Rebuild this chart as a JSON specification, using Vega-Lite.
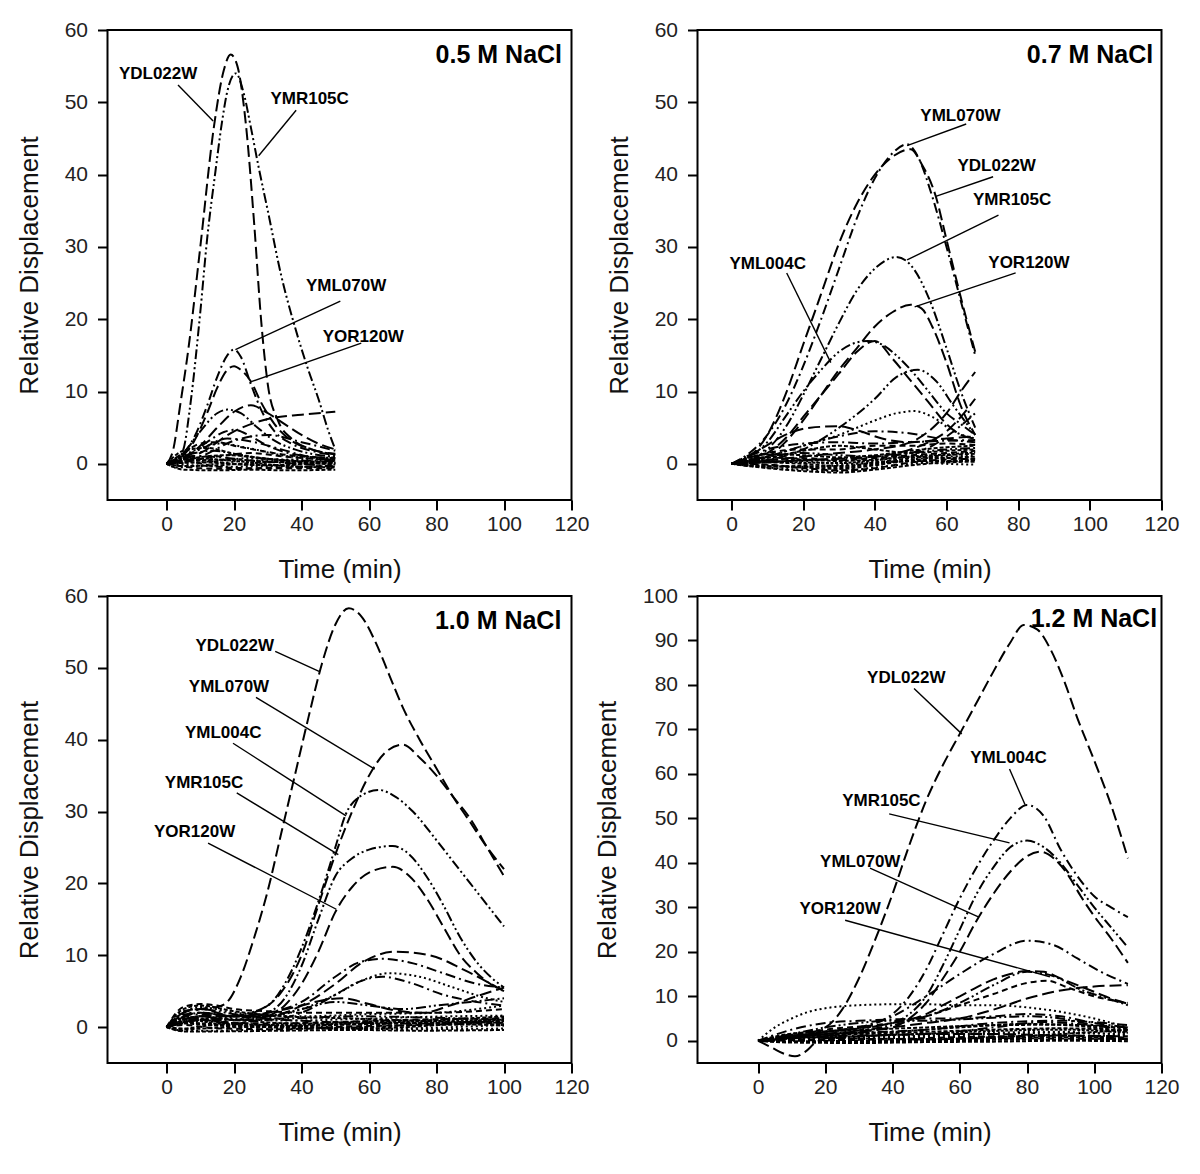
{
"$schema":"https://vega.github.io/schema/vega-lite/v6.json",
"background":"white",
"padding":{"left":14.5,"top":18,"right":5,"bottom":5},
"columns":2,
"spacing":{"row":96,"column":126},
"bounds":"flush",
"resolve":{"scale":{"strokeDash":"independent","x":"independent","y":"independent"}},
"config":{
 "font":"Liberation Sans",
 "view":{"stroke":"black","strokeWidth":2},
 "axis":{"domain":false,"grid":false,"ticks":true,"tickColor":"black","tickSize":10,"tickWidth":2,"labelFlush":false,"labelFont":"Liberation Sans","labelFontSize":21,"labelColor":"#222","titleFont":"Liberation Sans","titleFontSize":26,"titleFontWeight":"normal","titleColor":"#111"},
 "axisX":{"labelPadding":3,"titlePadding":22},
 "axisY":{"labelPadding":10,"titlePadding":22}
},
"datasets":{
"p1":[
{"gene":"YDL022W","t":0,"v":0},{"gene":"YDL022W","t":2,"v":2},{"gene":"YDL022W","t":4,"v":8},{"gene":"YDL022W","t":6.5,"v":16},{"gene":"YDL022W","t":10,"v":30},{"gene":"YDL022W","t":14,"v":46.5},{"gene":"YDL022W","t":17,"v":54.5},{"gene":"YDL022W","t":19,"v":56.6},{"gene":"YDL022W","t":21,"v":55},{"gene":"YDL022W","t":23.5,"v":47},{"gene":"YDL022W","t":26,"v":33},{"gene":"YDL022W","t":28,"v":20},{"gene":"YDL022W","t":30,"v":11},{"gene":"YDL022W","t":33,"v":6},{"gene":"YDL022W","t":37,"v":3.5},{"gene":"YDL022W","t":43,"v":2},{"gene":"YDL022W","t":50,"v":1.4},
{"gene":"YMR105C","t":0,"v":0},{"gene":"YMR105C","t":3,"v":0.5},{"gene":"YMR105C","t":5,"v":2},{"gene":"YMR105C","t":7,"v":8},{"gene":"YMR105C","t":10,"v":21},{"gene":"YMR105C","t":12,"v":31},{"gene":"YMR105C","t":14.5,"v":40.5},{"gene":"YMR105C","t":16.5,"v":47.5},{"gene":"YMR105C","t":18,"v":51.5},{"gene":"YMR105C","t":20.5,"v":54},{"gene":"YMR105C","t":23,"v":51},{"gene":"YMR105C","t":25,"v":46.5},{"gene":"YMR105C","t":27.3,"v":41},{"gene":"YMR105C","t":30,"v":35},{"gene":"YMR105C","t":34,"v":26},{"gene":"YMR105C","t":38,"v":19},{"gene":"YMR105C","t":42,"v":13},{"gene":"YMR105C","t":45,"v":9},{"gene":"YMR105C","t":48,"v":4.5},{"gene":"YMR105C","t":50,"v":2},
{"gene":"YML070W","t":0,"v":0},{"gene":"YML070W","t":4,"v":1},{"gene":"YML070W","t":8,"v":3.5},{"gene":"YML070W","t":12,"v":8},{"gene":"YML070W","t":15,"v":12},{"gene":"YML070W","t":18,"v":15},{"gene":"YML070W","t":20,"v":15.8},{"gene":"YML070W","t":22,"v":14.8},{"gene":"YML070W","t":25,"v":11},{"gene":"YML070W","t":28,"v":7.5},{"gene":"YML070W","t":32,"v":4.5},{"gene":"YML070W","t":37,"v":2.8},{"gene":"YML070W","t":43,"v":1.8},{"gene":"YML070W","t":50,"v":1.2},
{"gene":"YOR120W","t":0,"v":0},{"gene":"YOR120W","t":4,"v":0.8},{"gene":"YOR120W","t":8,"v":3},{"gene":"YOR120W","t":12,"v":7},{"gene":"YOR120W","t":15,"v":10.5},{"gene":"YOR120W","t":18,"v":13},{"gene":"YOR120W","t":20,"v":13.5},{"gene":"YOR120W","t":22,"v":13},{"gene":"YOR120W","t":25,"v":11.4},{"gene":"YOR120W","t":28,"v":8.5},{"gene":"YOR120W","t":32,"v":5.5},{"gene":"YOR120W","t":37,"v":3.2},{"gene":"YOR120W","t":43,"v":2},{"gene":"YOR120W","t":50,"v":1.3},
{"gene":"bg01","t":0,"v":0},{"gene":"bg01","t":5,"v":0.8},{"gene":"bg01","t":10,"v":2.5},{"gene":"bg01","t":15,"v":5},{"gene":"bg01","t":20,"v":7.2},{"gene":"bg01","t":25,"v":8.1},{"gene":"bg01","t":30,"v":7},{"gene":"bg01","t":35,"v":5.5},{"gene":"bg01","t":40,"v":4},{"gene":"bg01","t":45,"v":2.8},{"gene":"bg01","t":50,"v":2},
{"gene":"bg02","t":0,"v":0},{"gene":"bg02","t":10,"v":1.5},{"gene":"bg02","t":20,"v":4.5},{"gene":"bg02","t":30,"v":6.2},{"gene":"bg02","t":40,"v":6.8},{"gene":"bg02","t":50,"v":7.2},
{"gene":"bg03","t":0,"v":0},{"gene":"bg03","t":5,"v":1.5},{"gene":"bg03","t":10,"v":4.5},{"gene":"bg03","t":15,"v":7},{"gene":"bg03","t":18,"v":7.5},{"gene":"bg03","t":22,"v":7},{"gene":"bg03","t":27,"v":5},{"gene":"bg03","t":32,"v":3.2},{"gene":"bg03","t":38,"v":2},{"gene":"bg03","t":44,"v":1.3},{"gene":"bg03","t":50,"v":1},
{"gene":"bg04","t":0,"v":0},{"gene":"bg04","t":6,"v":1},{"gene":"bg04","t":12,"v":3},{"gene":"bg04","t":17,"v":4.4},{"gene":"bg04","t":20,"v":4.7},{"gene":"bg04","t":25,"v":3.8},{"gene":"bg04","t":30,"v":2.5},{"gene":"bg04","t":36,"v":1.5},{"gene":"bg04","t":43,"v":1},{"gene":"bg04","t":50,"v":0.8},
{"gene":"bg05","t":0,"v":0},{"gene":"bg05","t":5,"v":1.5},{"gene":"bg05","t":10,"v":2.8},{"gene":"bg05","t":15,"v":3},{"gene":"bg05","t":20,"v":2.5},{"gene":"bg05","t":28,"v":1.8},{"gene":"bg05","t":36,"v":1.2},{"gene":"bg05","t":50,"v":0.8},
{"gene":"bg06","t":0,"v":0},{"gene":"bg06","t":8,"v":1.8},{"gene":"bg06","t":16,"v":2.8},{"gene":"bg06","t":24,"v":2.2},{"gene":"bg06","t":34,"v":1.2},{"gene":"bg06","t":50,"v":0.6},
{"gene":"bg07","t":0,"v":0},{"gene":"bg07","t":10,"v":1},{"gene":"bg07","t":20,"v":3.2},{"gene":"bg07","t":30,"v":4},{"gene":"bg07","t":40,"v":3},{"gene":"bg07","t":50,"v":1.8},
{"gene":"bg08","t":0,"v":0},{"gene":"bg08","t":5,"v":0.3},{"gene":"bg08","t":15,"v":1},{"gene":"bg08","t":25,"v":1.5},{"gene":"bg08","t":35,"v":1},{"gene":"bg08","t":50,"v":0.5},
{"gene":"bg09","t":0,"v":0},{"gene":"bg09","t":3,"v":-0.5},{"gene":"bg09","t":10,"v":-0.3},{"gene":"bg09","t":20,"v":-0.4},{"gene":"bg09","t":30,"v":-0.3},{"gene":"bg09","t":40,"v":-0.4},{"gene":"bg09","t":50,"v":-0.3},
{"gene":"bg10","t":0,"v":0},{"gene":"bg10","t":10,"v":0.5},{"gene":"bg10","t":20,"v":0.6},{"gene":"bg10","t":30,"v":0.3},{"gene":"bg10","t":40,"v":0.2},{"gene":"bg10","t":50,"v":0.2},
{"gene":"bg11","t":0,"v":0},{"gene":"bg11","t":10,"v":-0.6},{"gene":"bg11","t":20,"v":-0.7},{"gene":"bg11","t":30,"v":-0.6},{"gene":"bg11","t":40,"v":-0.6},{"gene":"bg11","t":50,"v":-0.6},
{"gene":"bg12","t":0,"v":0},{"gene":"bg12","t":10,"v":0.2},{"gene":"bg12","t":20,"v":0},{"gene":"bg12","t":30,"v":-0.2},{"gene":"bg12","t":40,"v":0},{"gene":"bg12","t":50,"v":0.1},
{"gene":"bg13","t":0,"v":0},{"gene":"bg13","t":6,"v":1.2},{"gene":"bg13","t":14,"v":1.8},{"gene":"bg13","t":24,"v":1},{"gene":"bg13","t":34,"v":0.5},{"gene":"bg13","t":50,"v":0.4},
{"gene":"bg14","t":0,"v":0},{"gene":"bg14","t":10,"v":-0.2},{"gene":"bg14","t":20,"v":0.3},{"gene":"bg14","t":30,"v":0.5},{"gene":"bg14","t":40,"v":0.4},{"gene":"bg14","t":50,"v":0.3},
{"gene":"bg15","t":0,"v":0},{"gene":"bg15","t":8,"v":0.8},{"gene":"bg15","t":18,"v":1.2},{"gene":"bg15","t":28,"v":0.8},{"gene":"bg15","t":38,"v":0.3},{"gene":"bg15","t":50,"v":-0.1},
{"gene":"bg16","t":0,"v":0},{"gene":"bg16","t":10,"v":2},{"gene":"bg16","t":18,"v":3.5},{"gene":"bg16","t":26,"v":3},{"gene":"bg16","t":34,"v":2},{"gene":"bg16","t":42,"v":1},{"gene":"bg16","t":50,"v":0.5},
{"gene":"bg17","t":0,"v":0},{"gene":"bg17","t":5,"v":-0.8},{"gene":"bg17","t":15,"v":-0.9},{"gene":"bg17","t":25,"v":-0.8},{"gene":"bg17","t":35,"v":-0.9},{"gene":"bg17","t":50,"v":-0.8},
{"gene":"bg18","t":0,"v":0},{"gene":"bg18","t":5,"v":0.9},{"gene":"bg18","t":15,"v":0.6},{"gene":"bg18","t":25,"v":0.2},{"gene":"bg18","t":35,"v":-0.3},{"gene":"bg18","t":50,"v":-0.5},
{"gene":"bg19","t":0,"v":0},{"gene":"bg19","t":5,"v":0.4},{"gene":"bg19","t":15,"v":-0.4},{"gene":"bg19","t":25,"v":-0.6},{"gene":"bg19","t":35,"v":-0.5},{"gene":"bg19","t":50,"v":-0.2},
{"gene":"bg20","t":0,"v":0},{"gene":"bg20","t":5,"v":1.8},{"gene":"bg20","t":12,"v":2.2},{"gene":"bg20","t":20,"v":1.4},{"gene":"bg20","t":30,"v":0.7},{"gene":"bg20","t":50,"v":0.2},
{"gene":"bg21","t":0,"v":0},{"gene":"bg21","t":5,"v":0.1},{"gene":"bg21","t":15,"v":0.4},{"gene":"bg21","t":25,"v":0.8},{"gene":"bg21","t":35,"v":0.6},{"gene":"bg21","t":50,"v":0.9},
{"gene":"bg22","t":0,"v":0},{"gene":"bg22","t":5,"v":-0.3},{"gene":"bg22","t":15,"v":-0.2},{"gene":"bg22","t":25,"v":0.1},{"gene":"bg22","t":35,"v":0.3},{"gene":"bg22","t":50,"v":0},
{"gene":"bg23","t":0,"v":0},{"gene":"bg23","t":8,"v":1.1},{"gene":"bg23","t":16,"v":0.9},{"gene":"bg23","t":26,"v":0.4},{"gene":"bg23","t":36,"v":0.1},{"gene":"bg23","t":50,"v":-0.4},
{"gene":"bg24","t":0,"v":0},{"gene":"bg24","t":6,"v":0.6},{"gene":"bg24","t":14,"v":0.3},{"gene":"bg24","t":22,"v":-0.1},{"gene":"bg24","t":34,"v":-0.2},{"gene":"bg24","t":50,"v":0.6}
],
"p2":[
{"gene":"YML070W","t":0,"v":0},{"gene":"YML070W","t":5,"v":1.5},{"gene":"YML070W","t":10,"v":4},{"gene":"YML070W","t":15,"v":8},{"gene":"YML070W","t":20,"v":13.5},{"gene":"YML070W","t":25,"v":20},{"gene":"YML070W","t":30,"v":27},{"gene":"YML070W","t":35,"v":34},{"gene":"YML070W","t":40,"v":39.5},{"gene":"YML070W","t":45,"v":43},{"gene":"YML070W","t":49,"v":44.2},{"gene":"YML070W","t":52,"v":42.5},{"gene":"YML070W","t":56,"v":37},{"gene":"YML070W","t":60,"v":30},{"gene":"YML070W","t":64,"v":22.5},{"gene":"YML070W","t":68,"v":15},
{"gene":"YDL022W","t":0,"v":0},{"gene":"YDL022W","t":5,"v":1},{"gene":"YDL022W","t":10,"v":4},{"gene":"YDL022W","t":15,"v":9.5},{"gene":"YDL022W","t":20,"v":16.5},{"gene":"YDL022W","t":25,"v":23.5},{"gene":"YDL022W","t":30,"v":30.5},{"gene":"YDL022W","t":35,"v":36},{"gene":"YDL022W","t":40,"v":40},{"gene":"YDL022W","t":45,"v":42.5},{"gene":"YDL022W","t":50,"v":43.5},{"gene":"YDL022W","t":53,"v":41.5},{"gene":"YDL022W","t":57,"v":37},{"gene":"YDL022W","t":60,"v":31},{"gene":"YDL022W","t":64,"v":23},{"gene":"YDL022W","t":68,"v":15.5},
{"gene":"YMR105C","t":0,"v":0},{"gene":"YMR105C","t":5,"v":0.5},{"gene":"YMR105C","t":10,"v":2},{"gene":"YMR105C","t":15,"v":5},{"gene":"YMR105C","t":20,"v":9.5},{"gene":"YMR105C","t":25,"v":14.5},{"gene":"YMR105C","t":30,"v":19.5},{"gene":"YMR105C","t":35,"v":24},{"gene":"YMR105C","t":40,"v":27},{"gene":"YMR105C","t":46,"v":28.6},{"gene":"YMR105C","t":50,"v":27.5},{"gene":"YMR105C","t":55,"v":23},{"gene":"YMR105C","t":60,"v":16},{"gene":"YMR105C","t":64,"v":10},{"gene":"YMR105C","t":68,"v":5},
{"gene":"YOR120W","t":0,"v":0},{"gene":"YOR120W","t":10,"v":1},{"gene":"YOR120W","t":15,"v":3},{"gene":"YOR120W","t":20,"v":6},{"gene":"YOR120W","t":25,"v":9.5},{"gene":"YOR120W","t":30,"v":13},{"gene":"YOR120W","t":35,"v":16},{"gene":"YOR120W","t":40,"v":19},{"gene":"YOR120W","t":45,"v":21},{"gene":"YOR120W","t":50,"v":22},{"gene":"YOR120W","t":53,"v":21.5},{"gene":"YOR120W","t":56,"v":19},{"gene":"YOR120W","t":60,"v":14},{"gene":"YOR120W","t":64,"v":8},{"gene":"YOR120W","t":68,"v":4},
{"gene":"YML004C","t":0,"v":0},{"gene":"YML004C","t":5,"v":1},{"gene":"YML004C","t":10,"v":3},{"gene":"YML004C","t":15,"v":6.5},{"gene":"YML004C","t":20,"v":10},{"gene":"YML004C","t":25,"v":13},{"gene":"YML004C","t":30,"v":15.5},{"gene":"YML004C","t":35,"v":16.8},{"gene":"YML004C","t":38,"v":17},{"gene":"YML004C","t":42,"v":16.5},{"gene":"YML004C","t":46,"v":15},{"gene":"YML004C","t":50,"v":13},{"gene":"YML004C","t":55,"v":10},{"gene":"YML004C","t":60,"v":7},{"gene":"YML004C","t":64,"v":5.5},{"gene":"YML004C","t":68,"v":4},
{"gene":"bg01","t":0,"v":0},{"gene":"bg01","t":10,"v":0.5},{"gene":"bg01","t":20,"v":1},{"gene":"bg01","t":30,"v":1.5},{"gene":"bg01","t":40,"v":2},{"gene":"bg01","t":50,"v":3},{"gene":"bg01","t":55,"v":4.5},{"gene":"bg01","t":60,"v":7},{"gene":"bg01","t":64,"v":10},{"gene":"bg01","t":68,"v":12.7},
{"gene":"bg02","t":0,"v":0},{"gene":"bg02","t":20,"v":0.5},{"gene":"bg02","t":40,"v":1},{"gene":"bg02","t":50,"v":2},{"gene":"bg02","t":55,"v":3},{"gene":"bg02","t":60,"v":4.5},{"gene":"bg02","t":64,"v":6.5},{"gene":"bg02","t":68,"v":9},
{"gene":"bg03","t":0,"v":0},{"gene":"bg03","t":10,"v":0.5},{"gene":"bg03","t":20,"v":2},{"gene":"bg03","t":30,"v":5},{"gene":"bg03","t":40,"v":9},{"gene":"bg03","t":46,"v":12},{"gene":"bg03","t":52,"v":13},{"gene":"bg03","t":57,"v":11.5},{"gene":"bg03","t":62,"v":8},{"gene":"bg03","t":68,"v":4},
{"gene":"bg04","t":0,"v":0},{"gene":"bg04","t":10,"v":1.5},{"gene":"bg04","t":15,"v":3.5},{"gene":"bg04","t":20,"v":6.5},{"gene":"bg04","t":25,"v":9.5},{"gene":"bg04","t":30,"v":12.5},{"gene":"bg04","t":35,"v":15.5},{"gene":"bg04","t":40,"v":17},{"gene":"bg04","t":45,"v":14.5},{"gene":"bg04","t":50,"v":11.5},{"gene":"bg04","t":55,"v":8.5},{"gene":"bg04","t":60,"v":5.5},{"gene":"bg04","t":64,"v":4},{"gene":"bg04","t":68,"v":3.5},
{"gene":"bg05","t":0,"v":0},{"gene":"bg05","t":10,"v":1},{"gene":"bg05","t":20,"v":2.5},{"gene":"bg05","t":30,"v":4},{"gene":"bg05","t":40,"v":6},{"gene":"bg05","t":46,"v":7},{"gene":"bg05","t":51,"v":7.3},{"gene":"bg05","t":56,"v":6.5},{"gene":"bg05","t":62,"v":4.5},{"gene":"bg05","t":68,"v":3.5},
{"gene":"bg06","t":0,"v":0},{"gene":"bg06","t":8,"v":2},{"gene":"bg06","t":15,"v":4},{"gene":"bg06","t":22,"v":5},{"gene":"bg06","t":30,"v":5.2},{"gene":"bg06","t":36,"v":4.5},{"gene":"bg06","t":42,"v":3.5},{"gene":"bg06","t":50,"v":3},{"gene":"bg06","t":60,"v":3.5},{"gene":"bg06","t":68,"v":3.8},
{"gene":"bg07","t":0,"v":0},{"gene":"bg07","t":10,"v":1},{"gene":"bg07","t":20,"v":2.5},{"gene":"bg07","t":30,"v":3.8},{"gene":"bg07","t":40,"v":4.5},{"gene":"bg07","t":50,"v":4.2},{"gene":"bg07","t":58,"v":3.5},{"gene":"bg07","t":68,"v":3},
{"gene":"bg08","t":0,"v":0},{"gene":"bg08","t":10,"v":1.5},{"gene":"bg08","t":20,"v":2},{"gene":"bg08","t":30,"v":2},{"gene":"bg08","t":40,"v":2.5},{"gene":"bg08","t":50,"v":2.5},{"gene":"bg08","t":60,"v":2.8},{"gene":"bg08","t":68,"v":2.6},
{"gene":"bg09","t":0,"v":0},{"gene":"bg09","t":10,"v":-0.5},{"gene":"bg09","t":20,"v":-0.8},{"gene":"bg09","t":30,"v":-1},{"gene":"bg09","t":40,"v":-0.5},{"gene":"bg09","t":50,"v":0},{"gene":"bg09","t":60,"v":0.3},{"gene":"bg09","t":68,"v":0.4},
{"gene":"bg10","t":0,"v":0},{"gene":"bg10","t":10,"v":-0.3},{"gene":"bg10","t":20,"v":-0.5},{"gene":"bg10","t":30,"v":-0.7},{"gene":"bg10","t":40,"v":-0.2},{"gene":"bg10","t":50,"v":0.5},{"gene":"bg10","t":60,"v":0.8},{"gene":"bg10","t":68,"v":1},
{"gene":"bg11","t":0,"v":0},{"gene":"bg11","t":10,"v":0.5},{"gene":"bg11","t":20,"v":0.8},{"gene":"bg11","t":30,"v":0.5},{"gene":"bg11","t":40,"v":0.8},{"gene":"bg11","t":50,"v":1.2},{"gene":"bg11","t":60,"v":1.5},{"gene":"bg11","t":68,"v":1.8},
{"gene":"bg12","t":0,"v":0},{"gene":"bg12","t":10,"v":0.2},{"gene":"bg12","t":20,"v":0},{"gene":"bg12","t":30,"v":-0.3},{"gene":"bg12","t":40,"v":0.2},{"gene":"bg12","t":50,"v":0.8},{"gene":"bg12","t":60,"v":1.2},{"gene":"bg12","t":68,"v":1.4},
{"gene":"bg13","t":0,"v":0},{"gene":"bg13","t":10,"v":1},{"gene":"bg13","t":20,"v":1.5},{"gene":"bg13","t":30,"v":1.2},{"gene":"bg13","t":40,"v":1},{"gene":"bg13","t":50,"v":1.5},{"gene":"bg13","t":60,"v":2},{"gene":"bg13","t":68,"v":2.2},
{"gene":"bg14","t":0,"v":0},{"gene":"bg14","t":10,"v":-0.2},{"gene":"bg14","t":20,"v":-0.4},{"gene":"bg14","t":30,"v":-0.2},{"gene":"bg14","t":40,"v":0.3},{"gene":"bg14","t":50,"v":0.3},{"gene":"bg14","t":60,"v":0},{"gene":"bg14","t":68,"v":-0.1},
{"gene":"bg15","t":0,"v":0},{"gene":"bg15","t":10,"v":0.8},{"gene":"bg15","t":20,"v":1.8},{"gene":"bg15","t":30,"v":2.5},{"gene":"bg15","t":40,"v":2},{"gene":"bg15","t":50,"v":1.5},{"gene":"bg15","t":60,"v":1.8},{"gene":"bg15","t":68,"v":2},
{"gene":"bg16","t":0,"v":0},{"gene":"bg16","t":20,"v":0.5},{"gene":"bg16","t":40,"v":1},{"gene":"bg16","t":50,"v":1.5},{"gene":"bg16","t":56,"v":2.5},{"gene":"bg16","t":62,"v":4.5},{"gene":"bg16","t":68,"v":7},
{"gene":"bg17","t":0,"v":0},{"gene":"bg17","t":10,"v":-0.6},{"gene":"bg17","t":20,"v":-1},{"gene":"bg17","t":30,"v":-1.2},{"gene":"bg17","t":40,"v":-0.8},{"gene":"bg17","t":50,"v":-0.2},{"gene":"bg17","t":60,"v":0.2},{"gene":"bg17","t":68,"v":0.3},
{"gene":"bg18","t":0,"v":0},{"gene":"bg18","t":10,"v":0.3},{"gene":"bg18","t":20,"v":0.2},{"gene":"bg18","t":30,"v":0.1},{"gene":"bg18","t":40,"v":0.5},{"gene":"bg18","t":50,"v":1},{"gene":"bg18","t":60,"v":1.3},{"gene":"bg18","t":68,"v":1.6},
{"gene":"bg19","t":0,"v":0},{"gene":"bg19","t":10,"v":-0.1},{"gene":"bg19","t":20,"v":-0.6},{"gene":"bg19","t":30,"v":-0.9},{"gene":"bg19","t":40,"v":-0.6},{"gene":"bg19","t":50,"v":0.2},{"gene":"bg19","t":60,"v":0.6},{"gene":"bg19","t":68,"v":0.7},
{"gene":"bg20","t":0,"v":0},{"gene":"bg20","t":10,"v":1.3},{"gene":"bg20","t":20,"v":1.2},{"gene":"bg20","t":30,"v":0.9},{"gene":"bg20","t":40,"v":1.2},{"gene":"bg20","t":50,"v":1.8},{"gene":"bg20","t":60,"v":2.3},{"gene":"bg20","t":68,"v":2.5},
{"gene":"bg21","t":0,"v":0},{"gene":"bg21","t":10,"v":0.6},{"gene":"bg21","t":20,"v":0.4},{"gene":"bg21","t":30,"v":0},{"gene":"bg21","t":40,"v":0.1},{"gene":"bg21","t":50,"v":0.6},{"gene":"bg21","t":60,"v":1},{"gene":"bg21","t":68,"v":1.1},
{"gene":"bg22","t":0,"v":0},{"gene":"bg22","t":10,"v":-0.4},{"gene":"bg22","t":20,"v":-0.3},{"gene":"bg22","t":30,"v":-0.5},{"gene":"bg22","t":40,"v":0},{"gene":"bg22","t":50,"v":0.4},{"gene":"bg22","t":60,"v":0.4},{"gene":"bg22","t":68,"v":0.5},
{"gene":"bg23","t":0,"v":0},{"gene":"bg23","t":10,"v":2},{"gene":"bg23","t":20,"v":2.8},{"gene":"bg23","t":30,"v":3},{"gene":"bg23","t":40,"v":2.8},{"gene":"bg23","t":50,"v":3},{"gene":"bg23","t":60,"v":3.2},{"gene":"bg23","t":68,"v":3.3},
{"gene":"bg24","t":0,"v":0},{"gene":"bg24","t":10,"v":0.9},{"gene":"bg24","t":20,"v":0.6},{"gene":"bg24","t":30,"v":0.4},{"gene":"bg24","t":40,"v":0.6},{"gene":"bg24","t":50,"v":1},{"gene":"bg24","t":60,"v":0.8},{"gene":"bg24","t":68,"v":0.6}
],
"p3":[
{"gene":"YDL022W","t":0,"v":0},{"gene":"YDL022W","t":5,"v":1.5},{"gene":"YDL022W","t":10,"v":2.5},{"gene":"YDL022W","t":15,"v":2.8},{"gene":"YDL022W","t":18,"v":3.5},{"gene":"YDL022W","t":22,"v":7},{"gene":"YDL022W","t":26,"v":12.5},{"gene":"YDL022W","t":30,"v":19},{"gene":"YDL022W","t":34,"v":27},{"gene":"YDL022W","t":38,"v":35},{"gene":"YDL022W","t":42,"v":43},{"gene":"YDL022W","t":46,"v":50.5},{"gene":"YDL022W","t":50,"v":56},{"gene":"YDL022W","t":54,"v":58.3},{"gene":"YDL022W","t":58,"v":57},{"gene":"YDL022W","t":62,"v":53.5},{"gene":"YDL022W","t":66,"v":49},{"gene":"YDL022W","t":70,"v":44.5},{"gene":"YDL022W","t":75,"v":40},{"gene":"YDL022W","t":80,"v":36},{"gene":"YDL022W","t":85,"v":32},{"gene":"YDL022W","t":90,"v":28.5},{"gene":"YDL022W","t":95,"v":25},{"gene":"YDL022W","t":100,"v":22},
{"gene":"YML070W","t":0,"v":0},{"gene":"YML070W","t":10,"v":1.5},{"gene":"YML070W","t":20,"v":1.5},{"gene":"YML070W","t":30,"v":3},{"gene":"YML070W","t":35,"v":5.5},{"gene":"YML070W","t":40,"v":10},{"gene":"YML070W","t":45,"v":17},{"gene":"YML070W","t":50,"v":24},{"gene":"YML070W","t":55,"v":30},{"gene":"YML070W","t":60,"v":35},{"gene":"YML070W","t":65,"v":38.3},{"gene":"YML070W","t":70,"v":39.3},{"gene":"YML070W","t":75,"v":37.5},{"gene":"YML070W","t":80,"v":35},{"gene":"YML070W","t":85,"v":32},{"gene":"YML070W","t":90,"v":29},{"gene":"YML070W","t":95,"v":25},{"gene":"YML070W","t":100,"v":21},
{"gene":"YML004C","t":0,"v":0},{"gene":"YML004C","t":10,"v":1},{"gene":"YML004C","t":20,"v":1.5},{"gene":"YML004C","t":30,"v":3},{"gene":"YML004C","t":35,"v":6},{"gene":"YML004C","t":40,"v":11},{"gene":"YML004C","t":45,"v":17.5},{"gene":"YML004C","t":50,"v":25},{"gene":"YML004C","t":53,"v":29.5},{"gene":"YML004C","t":57,"v":32},{"gene":"YML004C","t":63,"v":33},{"gene":"YML004C","t":68,"v":32},{"gene":"YML004C","t":73,"v":30},{"gene":"YML004C","t":80,"v":26},{"gene":"YML004C","t":85,"v":23},{"gene":"YML004C","t":90,"v":20},{"gene":"YML004C","t":95,"v":17},{"gene":"YML004C","t":100,"v":14},
{"gene":"YMR105C","t":0,"v":0},{"gene":"YMR105C","t":10,"v":1},{"gene":"YMR105C","t":20,"v":1},{"gene":"YMR105C","t":30,"v":2},{"gene":"YMR105C","t":35,"v":4},{"gene":"YMR105C","t":40,"v":8.5},{"gene":"YMR105C","t":45,"v":15},{"gene":"YMR105C","t":50,"v":21},{"gene":"YMR105C","t":55,"v":23.5},{"gene":"YMR105C","t":60,"v":24.7},{"gene":"YMR105C","t":67,"v":25.2},{"gene":"YMR105C","t":72,"v":24},{"gene":"YMR105C","t":77,"v":21},{"gene":"YMR105C","t":82,"v":17},{"gene":"YMR105C","t":87,"v":12.5},{"gene":"YMR105C","t":92,"v":9},{"gene":"YMR105C","t":96,"v":7},{"gene":"YMR105C","t":100,"v":5.5},
{"gene":"YOR120W","t":0,"v":0},{"gene":"YOR120W","t":10,"v":1},{"gene":"YOR120W","t":20,"v":0.5},{"gene":"YOR120W","t":30,"v":1.5},{"gene":"YOR120W","t":35,"v":3},{"gene":"YOR120W","t":40,"v":6},{"gene":"YOR120W","t":45,"v":10.5},{"gene":"YOR120W","t":50,"v":16},{"gene":"YOR120W","t":55,"v":19.5},{"gene":"YOR120W","t":60,"v":21.5},{"gene":"YOR120W","t":67,"v":22.3},{"gene":"YOR120W","t":72,"v":21},{"gene":"YOR120W","t":77,"v":18},{"gene":"YOR120W","t":82,"v":14},{"gene":"YOR120W","t":87,"v":10},{"gene":"YOR120W","t":92,"v":7.5},{"gene":"YOR120W","t":96,"v":6},{"gene":"YOR120W","t":100,"v":5},
{"gene":"bg01","t":0,"v":0},{"gene":"bg01","t":5,"v":2},{"gene":"bg01","t":10,"v":2.5},{"gene":"bg01","t":20,"v":1.5},{"gene":"bg01","t":30,"v":1.5},{"gene":"bg01","t":40,"v":3},{"gene":"bg01","t":50,"v":6},{"gene":"bg01","t":58,"v":9},{"gene":"bg01","t":68,"v":10.5},{"gene":"bg01","t":78,"v":10},{"gene":"bg01","t":88,"v":8},{"gene":"bg01","t":100,"v":5},
{"gene":"bg02","t":0,"v":0},{"gene":"bg02","t":5,"v":1.5},{"gene":"bg02","t":10,"v":2},{"gene":"bg02","t":20,"v":1.5},{"gene":"bg02","t":30,"v":2},{"gene":"bg02","t":40,"v":3.5},{"gene":"bg02","t":50,"v":7},{"gene":"bg02","t":57,"v":9},{"gene":"bg02","t":64,"v":9.5},{"gene":"bg02","t":72,"v":9},{"gene":"bg02","t":82,"v":7.5},{"gene":"bg02","t":92,"v":6},{"gene":"bg02","t":100,"v":5.5},
{"gene":"bg03","t":0,"v":0},{"gene":"bg03","t":10,"v":2},{"gene":"bg03","t":20,"v":1.5},{"gene":"bg03","t":30,"v":1.5},{"gene":"bg03","t":40,"v":2.5},{"gene":"bg03","t":50,"v":4.5},{"gene":"bg03","t":58,"v":6.5},{"gene":"bg03","t":66,"v":7.5},{"gene":"bg03","t":75,"v":7},{"gene":"bg03","t":85,"v":5.5},{"gene":"bg03","t":95,"v":4},{"gene":"bg03","t":100,"v":3.5},
{"gene":"bg04","t":0,"v":0},{"gene":"bg04","t":10,"v":1.5},{"gene":"bg04","t":20,"v":1},{"gene":"bg04","t":30,"v":1},{"gene":"bg04","t":40,"v":2},{"gene":"bg04","t":50,"v":4.5},{"gene":"bg04","t":57,"v":6.3},{"gene":"bg04","t":64,"v":7},{"gene":"bg04","t":72,"v":6.2},{"gene":"bg04","t":82,"v":4.5},{"gene":"bg04","t":92,"v":3.5},{"gene":"bg04","t":100,"v":3},
{"gene":"bg05","t":0,"v":0},{"gene":"bg05","t":10,"v":2},{"gene":"bg05","t":20,"v":1.5},{"gene":"bg05","t":30,"v":2},{"gene":"bg05","t":40,"v":3},{"gene":"bg05","t":46,"v":3.7},{"gene":"bg05","t":52,"v":4},{"gene":"bg05","t":60,"v":3.2},{"gene":"bg05","t":68,"v":2.3},{"gene":"bg05","t":76,"v":2},{"gene":"bg05","t":84,"v":3},{"gene":"bg05","t":92,"v":4.3},{"gene":"bg05","t":100,"v":5.5},
{"gene":"bg06","t":0,"v":0},{"gene":"bg06","t":5,"v":2.8},{"gene":"bg06","t":10,"v":3.2},{"gene":"bg06","t":15,"v":3},{"gene":"bg06","t":20,"v":2.5},{"gene":"bg06","t":30,"v":2.2},{"gene":"bg06","t":40,"v":2},{"gene":"bg06","t":60,"v":2},{"gene":"bg06","t":80,"v":2},{"gene":"bg06","t":100,"v":2.5},
{"gene":"bg07","t":0,"v":0},{"gene":"bg07","t":5,"v":2},{"gene":"bg07","t":10,"v":2.8},{"gene":"bg07","t":20,"v":2},{"gene":"bg07","t":40,"v":1.5},{"gene":"bg07","t":60,"v":1.8},{"gene":"bg07","t":80,"v":2},{"gene":"bg07","t":100,"v":3},
{"gene":"bg08","t":0,"v":0},{"gene":"bg08","t":5,"v":1},{"gene":"bg08","t":10,"v":1.5},{"gene":"bg08","t":20,"v":1},{"gene":"bg08","t":40,"v":0.5},{"gene":"bg08","t":60,"v":0.8},{"gene":"bg08","t":80,"v":1},{"gene":"bg08","t":100,"v":1.5},
{"gene":"bg09","t":0,"v":0},{"gene":"bg09","t":5,"v":-0.5},{"gene":"bg09","t":15,"v":-0.5},{"gene":"bg09","t":30,"v":-0.3},{"gene":"bg09","t":50,"v":-0.2},{"gene":"bg09","t":70,"v":-0.3},{"gene":"bg09","t":100,"v":-0.2},
{"gene":"bg10","t":0,"v":0},{"gene":"bg10","t":5,"v":0.5},{"gene":"bg10","t":15,"v":0.2},{"gene":"bg10","t":30,"v":0},{"gene":"bg10","t":50,"v":0.3},{"gene":"bg10","t":70,"v":0.5},{"gene":"bg10","t":100,"v":0.8},
{"gene":"bg11","t":0,"v":0},{"gene":"bg11","t":5,"v":1.5},{"gene":"bg11","t":15,"v":0.8},{"gene":"bg11","t":30,"v":0.5},{"gene":"bg11","t":50,"v":0.7},{"gene":"bg11","t":70,"v":1},{"gene":"bg11","t":100,"v":1.2},
{"gene":"bg12","t":0,"v":0},{"gene":"bg12","t":5,"v":-0.2},{"gene":"bg12","t":15,"v":0.3},{"gene":"bg12","t":30,"v":0.2},{"gene":"bg12","t":50,"v":-0.1},{"gene":"bg12","t":70,"v":0.2},{"gene":"bg12","t":100,"v":0.4},
{"gene":"bg13","t":0,"v":0},{"gene":"bg13","t":5,"v":2.2},{"gene":"bg13","t":10,"v":2.5},{"gene":"bg13","t":20,"v":1.8},{"gene":"bg13","t":35,"v":1.2},{"gene":"bg13","t":55,"v":1.5},{"gene":"bg13","t":80,"v":1.3},{"gene":"bg13","t":100,"v":1},
{"gene":"bg14","t":0,"v":0},{"gene":"bg14","t":10,"v":0.8},{"gene":"bg14","t":25,"v":0.4},{"gene":"bg14","t":45,"v":0.1},{"gene":"bg14","t":65,"v":-0.2},{"gene":"bg14","t":85,"v":0},{"gene":"bg14","t":100,"v":0.3},
{"gene":"bg15","t":0,"v":0},{"gene":"bg15","t":10,"v":1.2},{"gene":"bg15","t":20,"v":1},{"gene":"bg15","t":30,"v":1.5},{"gene":"bg15","t":40,"v":2.5},{"gene":"bg15","t":50,"v":3.5},{"gene":"bg15","t":60,"v":3},{"gene":"bg15","t":70,"v":2.5},{"gene":"bg15","t":80,"v":3},{"gene":"bg15","t":90,"v":3.5},{"gene":"bg15","t":100,"v":4},
{"gene":"bg16","t":0,"v":0},{"gene":"bg16","t":5,"v":-0.6},{"gene":"bg16","t":15,"v":-0.6},{"gene":"bg16","t":35,"v":-0.5},{"gene":"bg16","t":55,"v":-0.4},{"gene":"bg16","t":75,"v":-0.5},{"gene":"bg16","t":100,"v":-0.4},
{"gene":"bg17","t":0,"v":0},{"gene":"bg17","t":5,"v":1.2},{"gene":"bg17","t":15,"v":0.5},{"gene":"bg17","t":35,"v":0.3},{"gene":"bg17","t":55,"v":0.5},{"gene":"bg17","t":75,"v":0.8},{"gene":"bg17","t":100,"v":1},
{"gene":"bg18","t":0,"v":0},{"gene":"bg18","t":5,"v":0.3},{"gene":"bg18","t":15,"v":-0.2},{"gene":"bg18","t":35,"v":-0.3},{"gene":"bg18","t":55,"v":0.1},{"gene":"bg18","t":75,"v":0.3},{"gene":"bg18","t":100,"v":0.6},
{"gene":"bg19","t":0,"v":0},{"gene":"bg19","t":5,"v":2.5},{"gene":"bg19","t":10,"v":3},{"gene":"bg19","t":20,"v":2.2},{"gene":"bg19","t":35,"v":1.5},{"gene":"bg19","t":55,"v":1.2},{"gene":"bg19","t":80,"v":0.8},{"gene":"bg19","t":100,"v":0.6},
{"gene":"bg20","t":0,"v":0},{"gene":"bg20","t":5,"v":0.8},{"gene":"bg20","t":15,"v":1.2},{"gene":"bg20","t":35,"v":0.9},{"gene":"bg20","t":55,"v":1.1},{"gene":"bg20","t":75,"v":1.4},{"gene":"bg20","t":100,"v":1.6},
{"gene":"bg21","t":0,"v":0},{"gene":"bg21","t":5,"v":-0.3},{"gene":"bg21","t":15,"v":-0.1},{"gene":"bg21","t":35,"v":0.1},{"gene":"bg21","t":55,"v":0.4},{"gene":"bg21","t":75,"v":0.6},{"gene":"bg21","t":100,"v":0.2},
{"gene":"bg22","t":0,"v":0},{"gene":"bg22","t":5,"v":1.8},{"gene":"bg22","t":15,"v":1.6},{"gene":"bg22","t":35,"v":1},{"gene":"bg22","t":55,"v":0.6},{"gene":"bg22","t":75,"v":0.5},{"gene":"bg22","t":100,"v":0.9},
{"gene":"bg23","t":0,"v":0},{"gene":"bg23","t":5,"v":0.6},{"gene":"bg23","t":15,"v":0.4},{"gene":"bg23","t":35,"v":-0.1},{"gene":"bg23","t":55,"v":-0.2},{"gene":"bg23","t":75,"v":0.1},{"gene":"bg23","t":100,"v":1.3}
],
"p4":[
{"gene":"YDL022W","t":0,"v":0},{"gene":"YDL022W","t":10,"v":1},{"gene":"YDL022W","t":20,"v":3},{"gene":"YDL022W","t":25,"v":7},{"gene":"YDL022W","t":30,"v":14},{"gene":"YDL022W","t":35,"v":23},{"gene":"YDL022W","t":40,"v":33},{"gene":"YDL022W","t":45,"v":44},{"gene":"YDL022W","t":50,"v":54},{"gene":"YDL022W","t":55,"v":62},{"gene":"YDL022W","t":60,"v":69},{"gene":"YDL022W","t":65,"v":76},{"gene":"YDL022W","t":70,"v":83},{"gene":"YDL022W","t":75,"v":89.5},{"gene":"YDL022W","t":79,"v":93.5},{"gene":"YDL022W","t":83,"v":92.5},{"gene":"YDL022W","t":87,"v":88},{"gene":"YDL022W","t":91,"v":81},{"gene":"YDL022W","t":95,"v":72.5},{"gene":"YDL022W","t":100,"v":63},{"gene":"YDL022W","t":105,"v":53},{"gene":"YDL022W","t":110,"v":41},
{"gene":"YML004C","t":0,"v":0},{"gene":"YML004C","t":20,"v":2},{"gene":"YML004C","t":35,"v":4},{"gene":"YML004C","t":40,"v":6},{"gene":"YML004C","t":45,"v":10},{"gene":"YML004C","t":50,"v":16},{"gene":"YML004C","t":55,"v":24},{"gene":"YML004C","t":60,"v":32},{"gene":"YML004C","t":65,"v":39},{"gene":"YML004C","t":70,"v":45},{"gene":"YML004C","t":75,"v":50},{"gene":"YML004C","t":80,"v":53},{"gene":"YML004C","t":85,"v":50.5},{"gene":"YML004C","t":90,"v":43},{"gene":"YML004C","t":95,"v":37},{"gene":"YML004C","t":100,"v":32.5},{"gene":"YML004C","t":105,"v":30},{"gene":"YML004C","t":110,"v":27.8},
{"gene":"YMR105C","t":0,"v":0},{"gene":"YMR105C","t":20,"v":2},{"gene":"YMR105C","t":40,"v":4},{"gene":"YMR105C","t":45,"v":6},{"gene":"YMR105C","t":50,"v":10},{"gene":"YMR105C","t":55,"v":17},{"gene":"YMR105C","t":60,"v":25},{"gene":"YMR105C","t":65,"v":33},{"gene":"YMR105C","t":70,"v":39},{"gene":"YMR105C","t":75,"v":43.5},{"gene":"YMR105C","t":80,"v":45},{"gene":"YMR105C","t":85,"v":43.5},{"gene":"YMR105C","t":90,"v":40},{"gene":"YMR105C","t":95,"v":35},{"gene":"YMR105C","t":100,"v":30},{"gene":"YMR105C","t":105,"v":25.5},{"gene":"YMR105C","t":110,"v":21},
{"gene":"YML070W","t":0,"v":0},{"gene":"YML070W","t":20,"v":1.5},{"gene":"YML070W","t":40,"v":3},{"gene":"YML070W","t":45,"v":5},{"gene":"YML070W","t":50,"v":8.5},{"gene":"YML070W","t":55,"v":14},{"gene":"YML070W","t":60,"v":20},{"gene":"YML070W","t":65,"v":27},{"gene":"YML070W","t":70,"v":33},{"gene":"YML070W","t":75,"v":38},{"gene":"YML070W","t":80,"v":41.5},{"gene":"YML070W","t":84,"v":42.5},{"gene":"YML070W","t":88,"v":41},{"gene":"YML070W","t":92,"v":37.5},{"gene":"YML070W","t":96,"v":32.5},{"gene":"YML070W","t":100,"v":28},{"gene":"YML070W","t":105,"v":23},{"gene":"YML070W","t":110,"v":17.5},
{"gene":"YOR120W","t":0,"v":0},{"gene":"YOR120W","t":20,"v":2},{"gene":"YOR120W","t":40,"v":4},{"gene":"YOR120W","t":50,"v":6},{"gene":"YOR120W","t":55,"v":8},{"gene":"YOR120W","t":60,"v":10},{"gene":"YOR120W","t":65,"v":12},{"gene":"YOR120W","t":70,"v":13.8},{"gene":"YOR120W","t":75,"v":15},{"gene":"YOR120W","t":80,"v":15.7},{"gene":"YOR120W","t":85,"v":15.5},{"gene":"YOR120W","t":90,"v":14},{"gene":"YOR120W","t":95,"v":12.5},{"gene":"YOR120W","t":100,"v":11},{"gene":"YOR120W","t":105,"v":9.5},{"gene":"YOR120W","t":110,"v":8.3},
{"gene":"bg01","t":0,"v":0},{"gene":"bg01","t":10,"v":1},{"gene":"bg01","t":20,"v":2},{"gene":"bg01","t":30,"v":3},{"gene":"bg01","t":40,"v":5.5},{"gene":"bg01","t":50,"v":10},{"gene":"bg01","t":60,"v":15},{"gene":"bg01","t":70,"v":19.5},{"gene":"bg01","t":80,"v":22.5},{"gene":"bg01","t":88,"v":21.5},{"gene":"bg01","t":95,"v":18.5},{"gene":"bg01","t":102,"v":15.5},{"gene":"bg01","t":110,"v":12.8},
{"gene":"bg02","t":0,"v":0},{"gene":"bg02","t":10,"v":0.5},{"gene":"bg02","t":20,"v":1},{"gene":"bg02","t":30,"v":2},{"gene":"bg02","t":40,"v":3},{"gene":"bg02","t":50,"v":4},{"gene":"bg02","t":60,"v":5},{"gene":"bg02","t":70,"v":7},{"gene":"bg02","t":80,"v":9.5},{"gene":"bg02","t":90,"v":11.3},{"gene":"bg02","t":100,"v":12.2},{"gene":"bg02","t":110,"v":12.5},
{"gene":"bg03","t":0,"v":0},{"gene":"bg03","t":20,"v":1.5},{"gene":"bg03","t":40,"v":3.5},{"gene":"bg03","t":50,"v":5.5},{"gene":"bg03","t":60,"v":8.5},{"gene":"bg03","t":70,"v":12.5},{"gene":"bg03","t":80,"v":15.5},{"gene":"bg03","t":88,"v":14.5},{"gene":"bg03","t":96,"v":11.5},{"gene":"bg03","t":104,"v":9.5},{"gene":"bg03","t":110,"v":8},
{"gene":"bg04","t":0,"v":0},{"gene":"bg04","t":5,"v":3},{"gene":"bg04","t":10,"v":5},{"gene":"bg04","t":15,"v":6.5},{"gene":"bg04","t":20,"v":7.3},{"gene":"bg04","t":30,"v":8},{"gene":"bg04","t":40,"v":8.2},{"gene":"bg04","t":50,"v":8.2},{"gene":"bg04","t":60,"v":8},{"gene":"bg04","t":70,"v":8},{"gene":"bg04","t":80,"v":7.5},{"gene":"bg04","t":90,"v":6.5},{"gene":"bg04","t":100,"v":5},{"gene":"bg04","t":110,"v":3},
{"gene":"bg05","t":0,"v":0},{"gene":"bg05","t":4,"v":-1.5},{"gene":"bg05","t":8,"v":-3},{"gene":"bg05","t":11,"v":-3.5},{"gene":"bg05","t":14,"v":-2.5},{"gene":"bg05","t":17,"v":-0.5},{"gene":"bg05","t":20,"v":0.5},{"gene":"bg05","t":30,"v":1},{"gene":"bg05","t":50,"v":1.5},{"gene":"bg05","t":70,"v":1.5},{"gene":"bg05","t":90,"v":1.2},{"gene":"bg05","t":110,"v":1},
{"gene":"bg06","t":0,"v":0},{"gene":"bg06","t":10,"v":2.5},{"gene":"bg06","t":20,"v":4},{"gene":"bg06","t":30,"v":4.5},{"gene":"bg06","t":40,"v":4.8},{"gene":"bg06","t":50,"v":5},{"gene":"bg06","t":60,"v":5},{"gene":"bg06","t":70,"v":5.5},{"gene":"bg06","t":80,"v":6},{"gene":"bg06","t":90,"v":5.5},{"gene":"bg06","t":100,"v":4},{"gene":"bg06","t":110,"v":3},
{"gene":"bg07","t":0,"v":0},{"gene":"bg07","t":10,"v":1.5},{"gene":"bg07","t":20,"v":3},{"gene":"bg07","t":30,"v":4},{"gene":"bg07","t":40,"v":4.5},{"gene":"bg07","t":50,"v":4.5},{"gene":"bg07","t":60,"v":4.8},{"gene":"bg07","t":70,"v":5.2},{"gene":"bg07","t":80,"v":5.5},{"gene":"bg07","t":90,"v":5},{"gene":"bg07","t":100,"v":3.5},{"gene":"bg07","t":110,"v":2.5},
{"gene":"bg08","t":0,"v":0},{"gene":"bg08","t":10,"v":1},{"gene":"bg08","t":20,"v":1.5},{"gene":"bg08","t":40,"v":2},{"gene":"bg08","t":60,"v":3},{"gene":"bg08","t":80,"v":3.8},{"gene":"bg08","t":100,"v":3},{"gene":"bg08","t":110,"v":2},
{"gene":"bg09","t":0,"v":0},{"gene":"bg09","t":10,"v":0.5},{"gene":"bg09","t":30,"v":0.8},{"gene":"bg09","t":50,"v":1},{"gene":"bg09","t":70,"v":1.5},{"gene":"bg09","t":90,"v":1.8},{"gene":"bg09","t":110,"v":1.5},
{"gene":"bg10","t":0,"v":0},{"gene":"bg10","t":10,"v":-0.3},{"gene":"bg10","t":30,"v":-0.2},{"gene":"bg10","t":50,"v":0},{"gene":"bg10","t":70,"v":0.2},{"gene":"bg10","t":90,"v":0.3},{"gene":"bg10","t":110,"v":0.2},
{"gene":"bg11","t":0,"v":0},{"gene":"bg11","t":10,"v":0.2},{"gene":"bg11","t":30,"v":0.4},{"gene":"bg11","t":50,"v":0.3},{"gene":"bg11","t":70,"v":0.6},{"gene":"bg11","t":90,"v":0.5},{"gene":"bg11","t":110,"v":0.4},
{"gene":"bg12","t":0,"v":0},{"gene":"bg12","t":10,"v":1.2},{"gene":"bg12","t":30,"v":1.5},{"gene":"bg12","t":50,"v":2},{"gene":"bg12","t":70,"v":2.5},{"gene":"bg12","t":90,"v":2.8},{"gene":"bg12","t":110,"v":2.2},
{"gene":"bg13","t":0,"v":0},{"gene":"bg13","t":15,"v":0},{"gene":"bg13","t":35,"v":0.5},{"gene":"bg13","t":55,"v":0.8},{"gene":"bg13","t":75,"v":1},{"gene":"bg13","t":95,"v":1.2},{"gene":"bg13","t":110,"v":1},
{"gene":"bg14","t":0,"v":0},{"gene":"bg14","t":10,"v":0.8},{"gene":"bg14","t":30,"v":1.2},{"gene":"bg14","t":50,"v":1.5},{"gene":"bg14","t":70,"v":3},{"gene":"bg14","t":85,"v":4.2},{"gene":"bg14","t":100,"v":3.5},{"gene":"bg14","t":110,"v":3},
{"gene":"bg15","t":0,"v":0},{"gene":"bg15","t":20,"v":2.5},{"gene":"bg15","t":40,"v":4},{"gene":"bg15","t":50,"v":5.5},{"gene":"bg15","t":60,"v":8},{"gene":"bg15","t":70,"v":10.5},{"gene":"bg15","t":80,"v":13},{"gene":"bg15","t":86,"v":13.5},{"gene":"bg15","t":92,"v":12},{"gene":"bg15","t":100,"v":10},{"gene":"bg15","t":110,"v":8.5},
{"gene":"bg16","t":0,"v":0},{"gene":"bg16","t":10,"v":-0.4},{"gene":"bg16","t":30,"v":-0.5},{"gene":"bg16","t":50,"v":-0.3},{"gene":"bg16","t":70,"v":-0.2},{"gene":"bg16","t":90,"v":0},{"gene":"bg16","t":110,"v":-0.1},
{"gene":"bg17","t":0,"v":0},{"gene":"bg17","t":10,"v":0.6},{"gene":"bg17","t":30,"v":1},{"gene":"bg17","t":50,"v":1.6},{"gene":"bg17","t":70,"v":2.2},{"gene":"bg17","t":90,"v":2.5},{"gene":"bg17","t":110,"v":1.8},
{"gene":"bg18","t":0,"v":0},{"gene":"bg18","t":10,"v":0.1},{"gene":"bg18","t":30,"v":0.2},{"gene":"bg18","t":50,"v":0.6},{"gene":"bg18","t":70,"v":1},{"gene":"bg18","t":90,"v":1.1},{"gene":"bg18","t":110,"v":0.7},
{"gene":"bg19","t":0,"v":0},{"gene":"bg19","t":10,"v":1.6},{"gene":"bg19","t":30,"v":2.4},{"gene":"bg19","t":50,"v":3},{"gene":"bg19","t":70,"v":3.5},{"gene":"bg19","t":90,"v":3.6},{"gene":"bg19","t":110,"v":2.8},
{"gene":"bg20","t":0,"v":0},{"gene":"bg20","t":10,"v":0.3},{"gene":"bg20","t":30,"v":0.6},{"gene":"bg20","t":50,"v":1.2},{"gene":"bg20","t":70,"v":1.8},{"gene":"bg20","t":90,"v":2},{"gene":"bg20","t":110,"v":1.2},
{"gene":"bg21","t":0,"v":0},{"gene":"bg21","t":10,"v":-0.1},{"gene":"bg21","t":30,"v":0},{"gene":"bg21","t":50,"v":0.2},{"gene":"bg21","t":70,"v":0.5},{"gene":"bg21","t":90,"v":0.8},{"gene":"bg21","t":110,"v":0.5},
{"gene":"bg22","t":0,"v":0},{"gene":"bg22","t":10,"v":1},{"gene":"bg22","t":30,"v":1.8},{"gene":"bg22","t":50,"v":2.5},{"gene":"bg22","t":70,"v":4},{"gene":"bg22","t":90,"v":4.5},{"gene":"bg22","t":110,"v":3.5},
{"gene":"bg23","t":0,"v":0},{"gene":"bg23","t":10,"v":0.8},{"gene":"bg23","t":30,"v":0.5},{"gene":"bg23","t":50,"v":0.4},{"gene":"bg23","t":70,"v":0.8},{"gene":"bg23","t":90,"v":1.5},{"gene":"bg23","t":110,"v":2.5}
],
"a1":[
{"gene":"YDL022W","lt":-2.5,"lv":53.9,"t":3.4,"v":52.4,"t2":13.8,"v2":47.4},
{"gene":"YMR105C","lt":42.4,"lv":50.5,"t":38.4,"v":48.9,"t2":27.3,"v2":42.6},
{"gene":"YML070W","lt":53.2,"lv":24.6,"t":51.5,"v":22.5,"t2":20.4,"v2":15.8},
{"gene":"YOR120W","lt":58.3,"lv":17.6,"t":57.7,"v":16.7,"t2":25.3,"v2":11.4}
],
"a2":[
{"gene":"YML070W","lt":63.9,"lv":48.1,"t":65.5,"v":47,"t2":49,"v2":44},
{"gene":"YDL022W","lt":74,"lv":41.2,"t":73,"v":39.7,"t2":57,"v2":37},
{"gene":"YMR105C","lt":78.3,"lv":36.5,"t":74.5,"v":34.4,"t2":49,"v2":28.2},
{"gene":"YOR120W","lt":83,"lv":27.8,"t":79.3,"v":26.4,"t2":51.1,"v2":21.7},
{"gene":"YML004C","lt":10.1,"lv":27.6,"t":15.4,"v":26.4,"t2":27.7,"v2":14}
],
"a3":[
{"gene":"YDL022W","lt":20.2,"lv":53,"t":32.2,"v":52.3,"t2":45.2,"v2":49.5},
{"gene":"YML070W","lt":18.5,"lv":47.3,"t":26.5,"v":45.9,"t2":61.7,"v2":35.9},
{"gene":"YML004C","lt":16.8,"lv":40.9,"t":19.7,"v":39.5,"t2":53.2,"v2":29.4},
{"gene":"YMR105C","lt":11.1,"lv":34,"t":20.8,"v":32.6,"t2":50.9,"v2":24},
{"gene":"YOR120W","lt":8.3,"lv":27.2,"t":12.3,"v":25.6,"t2":50.3,"v2":16.4}
],
"a4":[
{"gene":"YDL022W","lt":44.1,"lv":81.5,"t":46.4,"v":79.2,"t2":60.6,"v2":69},
{"gene":"YML004C","lt":74.5,"lv":63.5,"t":74.8,"v":61.1,"t2":79.4,"v2":53.1},
{"gene":"YMR105C","lt":36.7,"lv":54,"t":39,"v":51,"t2":74.8,"v2":44.5},
{"gene":"YML070W","lt":30.4,"lv":40.2,"t":33.3,"v":38.8,"t2":65.7,"v2":27.8},
{"gene":"YOR120W","lt":24.4,"lv":29.7,"t":25.9,"v":27.1,"t2":86.8,"v2":14.4}
],
"n1":[{"label":"0.5 M NaCl","lt":117.2,"lv":56.5}],
"n2":[{"label":"0.7 M NaCl","lt":117.7,"lv":56.6}],
"n3":[{"label":"1.0 M NaCl","lt":117,"lv":56.5}],
"n4":[{"label":"1.2 M NaCl","lt":118.7,"lv":94.8}]
},
"concat":[
{"width":464,"height":470,"layer":[
 {"data":{"name":"p1"},"mark":{"type":"line","interpolate":"monotone","color":"black","strokeWidth":2},
  "encoding":{
   "x":{"field":"t","type":"quantitative","scale":{"domain":[-17.5,120],"nice":false,"zero":false},"axis":{"values":[0,20,40,60,80,100,120],"title":"Time (min)"}},
   "y":{"field":"v","type":"quantitative","scale":{"domain":[-5,60],"nice":false,"zero":false},"axis":{"values":[0,10,20,30,40,50,60],"title":"Relative Displacement"}},
   "strokeDash":{"field":"gene","type":"nominal","legend":null,"scale":{"domain":["YDL022W","YMR105C","YML070W","YOR120W","bg01","bg02","bg03","bg04","bg05","bg06","bg07","bg08","bg09","bg10","bg11","bg12","bg13","bg14","bg15","bg16","bg17","bg18","bg19","bg20","bg21","bg22","bg23","bg24"],
    "range":[[12,5],[10,3,2,3,2,3],[10,4,2,4],[12,5],[12,5],[12,5],[10,3,2,3,2,3],[10,4,2,4],[6,4],[2,3],[10,4,2,4],[6,4],[2,3],[4,2],[6,4],[4,2],[10,3,2,3,2,3],[2,3],[4,2],[10,4,2,4],[4,2],[3,1.5],[6,4],[4,2],[2,3],[4,2],[10,4,2,4],[4,2]]}}
  }},
 {"data":{"name":"a1"},"mark":{"type":"rule","color":"black","strokeWidth":1.4},
  "encoding":{"x":{"field":"t","type":"quantitative"},"y":{"field":"v","type":"quantitative"},"x2":{"field":"t2"},"y2":{"field":"v2"}}},
 {"data":{"name":"a1"},"mark":{"type":"text","fontWeight":"bold","fontSize":17,"color":"black"},
  "encoding":{"x":{"field":"lt","type":"quantitative"},"y":{"field":"lv","type":"quantitative"},"text":{"field":"gene"}}},
 {"data":{"name":"n1"},"mark":{"type":"text","align":"right","fontWeight":"bold","fontSize":25,"color":"black"},
  "encoding":{"x":{"field":"lt","type":"quantitative"},"y":{"field":"lv","type":"quantitative"},"text":{"field":"label"}}}
]},
{"width":464,"height":470,"layer":[
 {"data":{"name":"p2"},"mark":{"type":"line","interpolate":"monotone","color":"black","strokeWidth":2},
  "encoding":{
   "x":{"field":"t","type":"quantitative","scale":{"domain":[-9.5,120],"nice":false,"zero":false},"axis":{"values":[0,20,40,60,80,100,120],"title":"Time (min)"}},
   "y":{"field":"v","type":"quantitative","scale":{"domain":[-5,60],"nice":false,"zero":false},"axis":{"values":[0,10,20,30,40,50,60],"title":"Relative Displacement"}},
   "strokeDash":{"field":"gene","type":"nominal","legend":null,"scale":{"domain":["YML070W","YDL022W","YMR105C","YOR120W","YML004C","bg01","bg02","bg03","bg04","bg05","bg06","bg07","bg08","bg09","bg10","bg11","bg12","bg13","bg14","bg15","bg16","bg17","bg18","bg19","bg20","bg21","bg22","bg23","bg24"],
    "range":[[10,4,2,4],[12,5],[10,3,2,3,2,3],[12,5],[10,3,2,3,2,3],[12,5],[12,5],[10,3,2,3,2,3],[12,5],[2,3],[12,5],[10,4,2,4],[6,4],[2,3],[4,2],[6,4],[4,2],[10,3,2,3,2,3],[2,3],[4,2],[10,4,2,4],[4,2],[3,1.5],[6,4],[4,2],[2,3],[4,2],[10,4,2,4],[4,2]]}}
  }},
 {"data":{"name":"a2"},"mark":{"type":"rule","color":"black","strokeWidth":1.4},
  "encoding":{"x":{"field":"t","type":"quantitative"},"y":{"field":"v","type":"quantitative"},"x2":{"field":"t2"},"y2":{"field":"v2"}}},
 {"data":{"name":"a2"},"mark":{"type":"text","fontWeight":"bold","fontSize":17,"color":"black"},
  "encoding":{"x":{"field":"lt","type":"quantitative"},"y":{"field":"lv","type":"quantitative"},"text":{"field":"gene"}}},
 {"data":{"name":"n2"},"mark":{"type":"text","align":"right","fontWeight":"bold","fontSize":25,"color":"black"},
  "encoding":{"x":{"field":"lt","type":"quantitative"},"y":{"field":"lv","type":"quantitative"},"text":{"field":"label"}}}
]},
{"width":464,"height":467,"layer":[
 {"data":{"name":"p3"},"mark":{"type":"line","interpolate":"monotone","color":"black","strokeWidth":2},
  "encoding":{
   "x":{"field":"t","type":"quantitative","scale":{"domain":[-17.5,120],"nice":false,"zero":false},"axis":{"values":[0,20,40,60,80,100,120],"title":"Time (min)"}},
   "y":{"field":"v","type":"quantitative","scale":{"domain":[-5,60],"nice":false,"zero":false},"axis":{"values":[0,10,20,30,40,50,60],"title":"Relative Displacement"}},
   "strokeDash":{"field":"gene","type":"nominal","legend":null,"scale":{"domain":["YDL022W","YML070W","YML004C","YMR105C","YOR120W","bg01","bg02","bg03","bg04","bg05","bg06","bg07","bg08","bg09","bg10","bg11","bg12","bg13","bg14","bg15","bg16","bg17","bg18","bg19","bg20","bg21","bg22","bg23"],
    "range":[[12,5],[12,5],[10,3,2,3,2,3],[10,3,2,3,2,3],[12,5],[12,5],[10,4,2,4],[2,3],[10,4,2,4],[12,5],[6,4],[2,3],[4,2],[2,3],[4,2],[6,4],[4,2],[10,3,2,3,2,3],[2,3],[10,3,2,3,2,3],[4,2],[3,1.5],[6,4],[4,2],[2,3],[4,2],[10,4,2,4],[4,2]]}}
  }},
 {"data":{"name":"a3"},"mark":{"type":"rule","color":"black","strokeWidth":1.4},
  "encoding":{"x":{"field":"t","type":"quantitative"},"y":{"field":"v","type":"quantitative"},"x2":{"field":"t2"},"y2":{"field":"v2"}}},
 {"data":{"name":"a3"},"mark":{"type":"text","fontWeight":"bold","fontSize":17,"color":"black"},
  "encoding":{"x":{"field":"lt","type":"quantitative"},"y":{"field":"lv","type":"quantitative"},"text":{"field":"gene"}}},
 {"data":{"name":"n3"},"mark":{"type":"text","align":"right","fontWeight":"bold","fontSize":25,"color":"black"},
  "encoding":{"x":{"field":"lt","type":"quantitative"},"y":{"field":"lv","type":"quantitative"},"text":{"field":"label"}}}
]},
{"width":464,"height":467,"layer":[
 {"data":{"name":"p4"},"mark":{"type":"line","interpolate":"monotone","color":"black","strokeWidth":2},
  "encoding":{
   "x":{"field":"t","type":"quantitative","scale":{"domain":[-18,120],"nice":false,"zero":false},"axis":{"values":[0,20,40,60,80,100,120],"title":"Time (min)"}},
   "y":{"field":"v","type":"quantitative","scale":{"domain":[-5,100],"nice":false,"zero":false},"axis":{"values":[0,10,20,30,40,50,60,70,80,90,100],"title":"Relative Displacement"}},
   "strokeDash":{"field":"gene","type":"nominal","legend":null,"scale":{"domain":["YDL022W","YML004C","YMR105C","YML070W","YOR120W","bg01","bg02","bg03","bg04","bg05","bg06","bg07","bg08","bg09","bg10","bg11","bg12","bg13","bg14","bg15","bg16","bg17","bg18","bg19","bg20","bg21","bg22","bg23"],
    "range":[[12,5],[10,4,2,4],[10,3,2,3,2,3],[12,5],[12,5],[10,4,2,4],[12,5],[10,3,2,3,2,3],[2,3],[12,5],[10,4,2,4],[10,3,2,3,2,3],[4,2],[2,3],[4,2],[6,4],[4,2],[2,3],[10,4,2,4],[6,4],[4,2],[3,1.5],[6,4],[4,2],[2,3],[4,2],[10,4,2,4],[4,2]]}}
  }},
 {"data":{"name":"a4"},"mark":{"type":"rule","color":"black","strokeWidth":1.4},
  "encoding":{"x":{"field":"t","type":"quantitative"},"y":{"field":"v","type":"quantitative"},"x2":{"field":"t2"},"y2":{"field":"v2"}}},
 {"data":{"name":"a4"},"mark":{"type":"text","fontWeight":"bold","fontSize":17,"color":"black"},
  "encoding":{"x":{"field":"lt","type":"quantitative"},"y":{"field":"lv","type":"quantitative"},"text":{"field":"gene"}}},
 {"data":{"name":"n4"},"mark":{"type":"text","align":"right","fontWeight":"bold","fontSize":25,"color":"black"},
  "encoding":{"x":{"field":"lt","type":"quantitative"},"y":{"field":"lv","type":"quantitative"},"text":{"field":"label"}}}
]}
]
}
